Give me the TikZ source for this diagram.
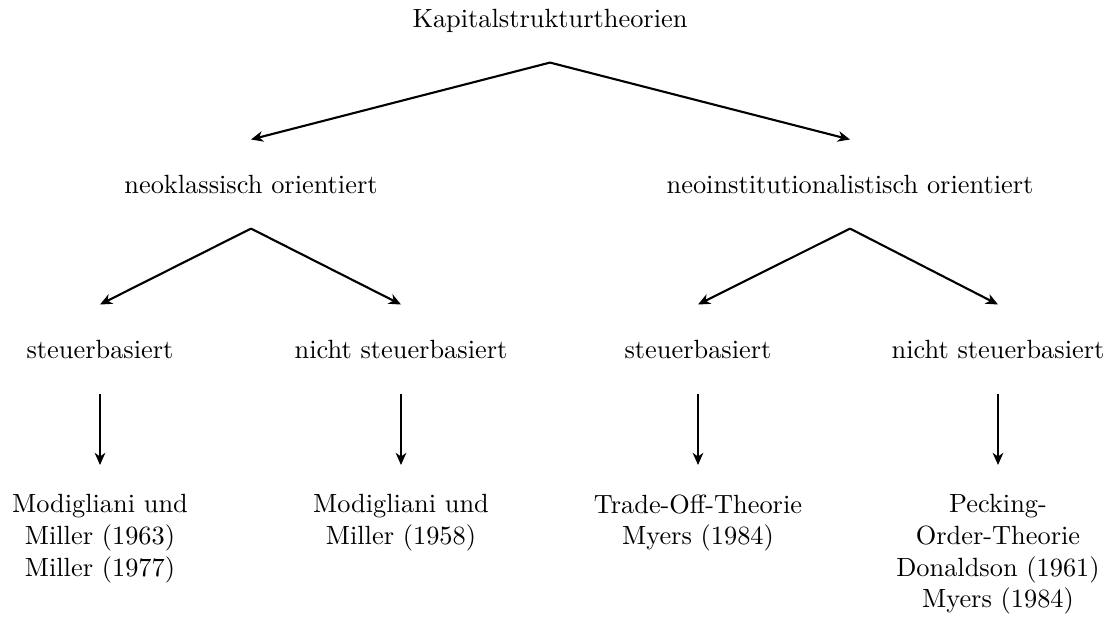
\documentclass[tikz,border=0pt]{standalone}
\usetikzlibrary{arrows.meta}
\begin{document}
\begin{tikzpicture}[x=0.013333cm,y=-0.013333cm,
  lbl/.style={anchor=base,inner xsep=2pt,inner ysep=10pt,text height=10.1pt,text depth=3.3pt},
  leaf/.style={anchor=north,align=center,inner xsep=2pt,inner ysep=11pt},
  arr/.style={-{Stealth[length=4.6pt,width=4pt,inset=1.4pt]},line width=0.8pt}]
\useasboundingbox (0,0) rectangle (1113,617);
\node[lbl] (root) at (550,27) {Kapitalstrukturtheorien};
\node[lbl] (nk) at (251,193) {neoklassisch orientiert};
\node[lbl] (ni) at (850,193) {neoinstitutionalistisch orientiert};
\node[lbl] (s1) at (100,358) {steuerbasiert};
\node[lbl] (n1) at (401,358) {nicht steuerbasiert};
\node[lbl] (s2) at (698,358) {steuerbasiert};
\node[lbl] (n2) at (998,358) {nicht steuerbasiert};
\node[leaf] (l1) at (100,465) {Modigliani und\\Miller (1963)\\Miller (1977)};
\node[leaf] (l2) at (401,465) {Modigliani und\\Miller (1958)};
\node[leaf] (l3) at (698,465) {Trade-Off-Theorie\\Myers (1984)};
\node[leaf] (l4) at (998,465) {Pecking-\\Order-Theorie\\Donaldson (1961)\\Myers (1984)};
\draw[arr] (root.south) -- (nk.north);
\draw[arr] (root.south) -- (ni.north);
\draw[arr] (nk.south) -- (s1.north);
\draw[arr] (nk.south) -- (n1.north);
\draw[arr] (ni.south) -- (s2.north);
\draw[arr] (ni.south) -- (n2.north);
\draw[arr] (s1.south) -- (l1.north);
\draw[arr] (n1.south) -- (l2.north);
\draw[arr] (s2.south) -- (l3.north);
\draw[arr] (n2.south) -- (l4.north);
\end{tikzpicture}
\end{document}
